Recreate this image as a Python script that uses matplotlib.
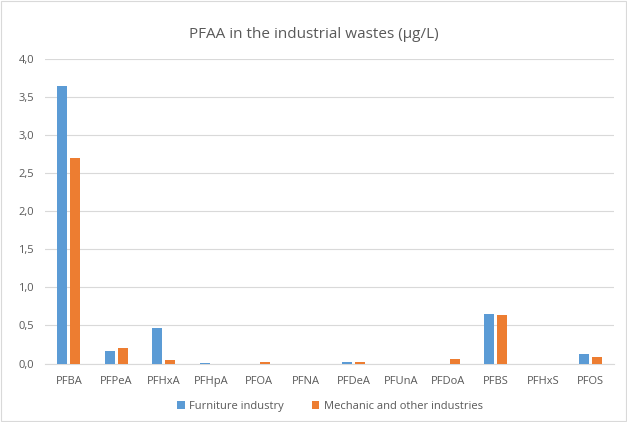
import matplotlib
matplotlib.use('Agg')
import matplotlib.pyplot as plt
import numpy as np

# Data
compounds = ['PFBA', 'PFPeA', 'PFHxA', 'PFHpA', 'PFOA', 'PFNA',
             'PFDeA', 'PFUnA', 'PFDoA', 'PFBS', 'PFHxS', 'PFOS']
furniture = [3.65, 0.17, 0.47, 0.01, 0.0, 0.0, 0.015, 0.0, 0.0, 0.65, 0.0, 0.12]
mechanic = [2.70, 0.20, 0.045, 0.0, 0.015, 0.0, 0.015, 0.0, 0.06, 0.64, 0.0, 0.09]
yticks = [0.0, 0.5, 1.0, 1.5, 2.0, 2.5, 3.0, 3.5, 4.0]

plt.rcParams['font.family'] = ['Open Sans', 'DejaVu Sans']

fig = plt.figure(figsize=(6.27, 4.22), dpi=100)
ax = fig.add_axes([0.072, 0.1386, 0.908, 0.7214])

x = np.arange(len(compounds))
w = 0.21
ax.bar(x - 0.135, furniture, w, color='#5B9BD5', label='Furniture industry', zorder=3)
ax.bar(x + 0.135, mechanic, w, color='#ED7D31', label='Mechanic and other industries', zorder=3)

ax.set_xlim(-0.5, len(compounds) - 0.5)
ax.set_ylim(0, 4.0)
ax.set_yticks(yticks)
ax.set_yticklabels([f'{v:.1f}'.replace('.', ',') for v in yticks])
ax.set_xticks(x)
ax.set_xticklabels(compounds)
ax.tick_params(axis='both', length=0, labelsize=8, colors='#595959')
ax.tick_params(axis='x', pad=9)
ax.tick_params(axis='y', pad=8)
ax.grid(axis='y', color='#D9D9D9', linewidth=0.8, zorder=0)
for s in ['top', 'right', 'left']:
    ax.spines[s].set_visible(False)
ax.spines['bottom'].set_color('#D9D9D9')

fig.text(0.5, 0.918, 'PFAA in the industrial wastes (µg/L)', ha='center', va='center',
         fontsize=11, color='#595959')

ax.legend(loc='upper center', bbox_to_anchor=(0.5, -0.09), ncol=2, frameon=False,
          fontsize=8, labelcolor='#595959', handlelength=0.7, handleheight=0.7,
          columnspacing=2.5, handletextpad=0.4)

# light chart border
fig.patches.append(plt.Rectangle((0.002, 0.002), 0.996, 0.996, transform=fig.transFigure,
                                 fill=False, edgecolor='#D9D9D9', linewidth=0.8))

fig.savefig('out.png', dpi=100)
